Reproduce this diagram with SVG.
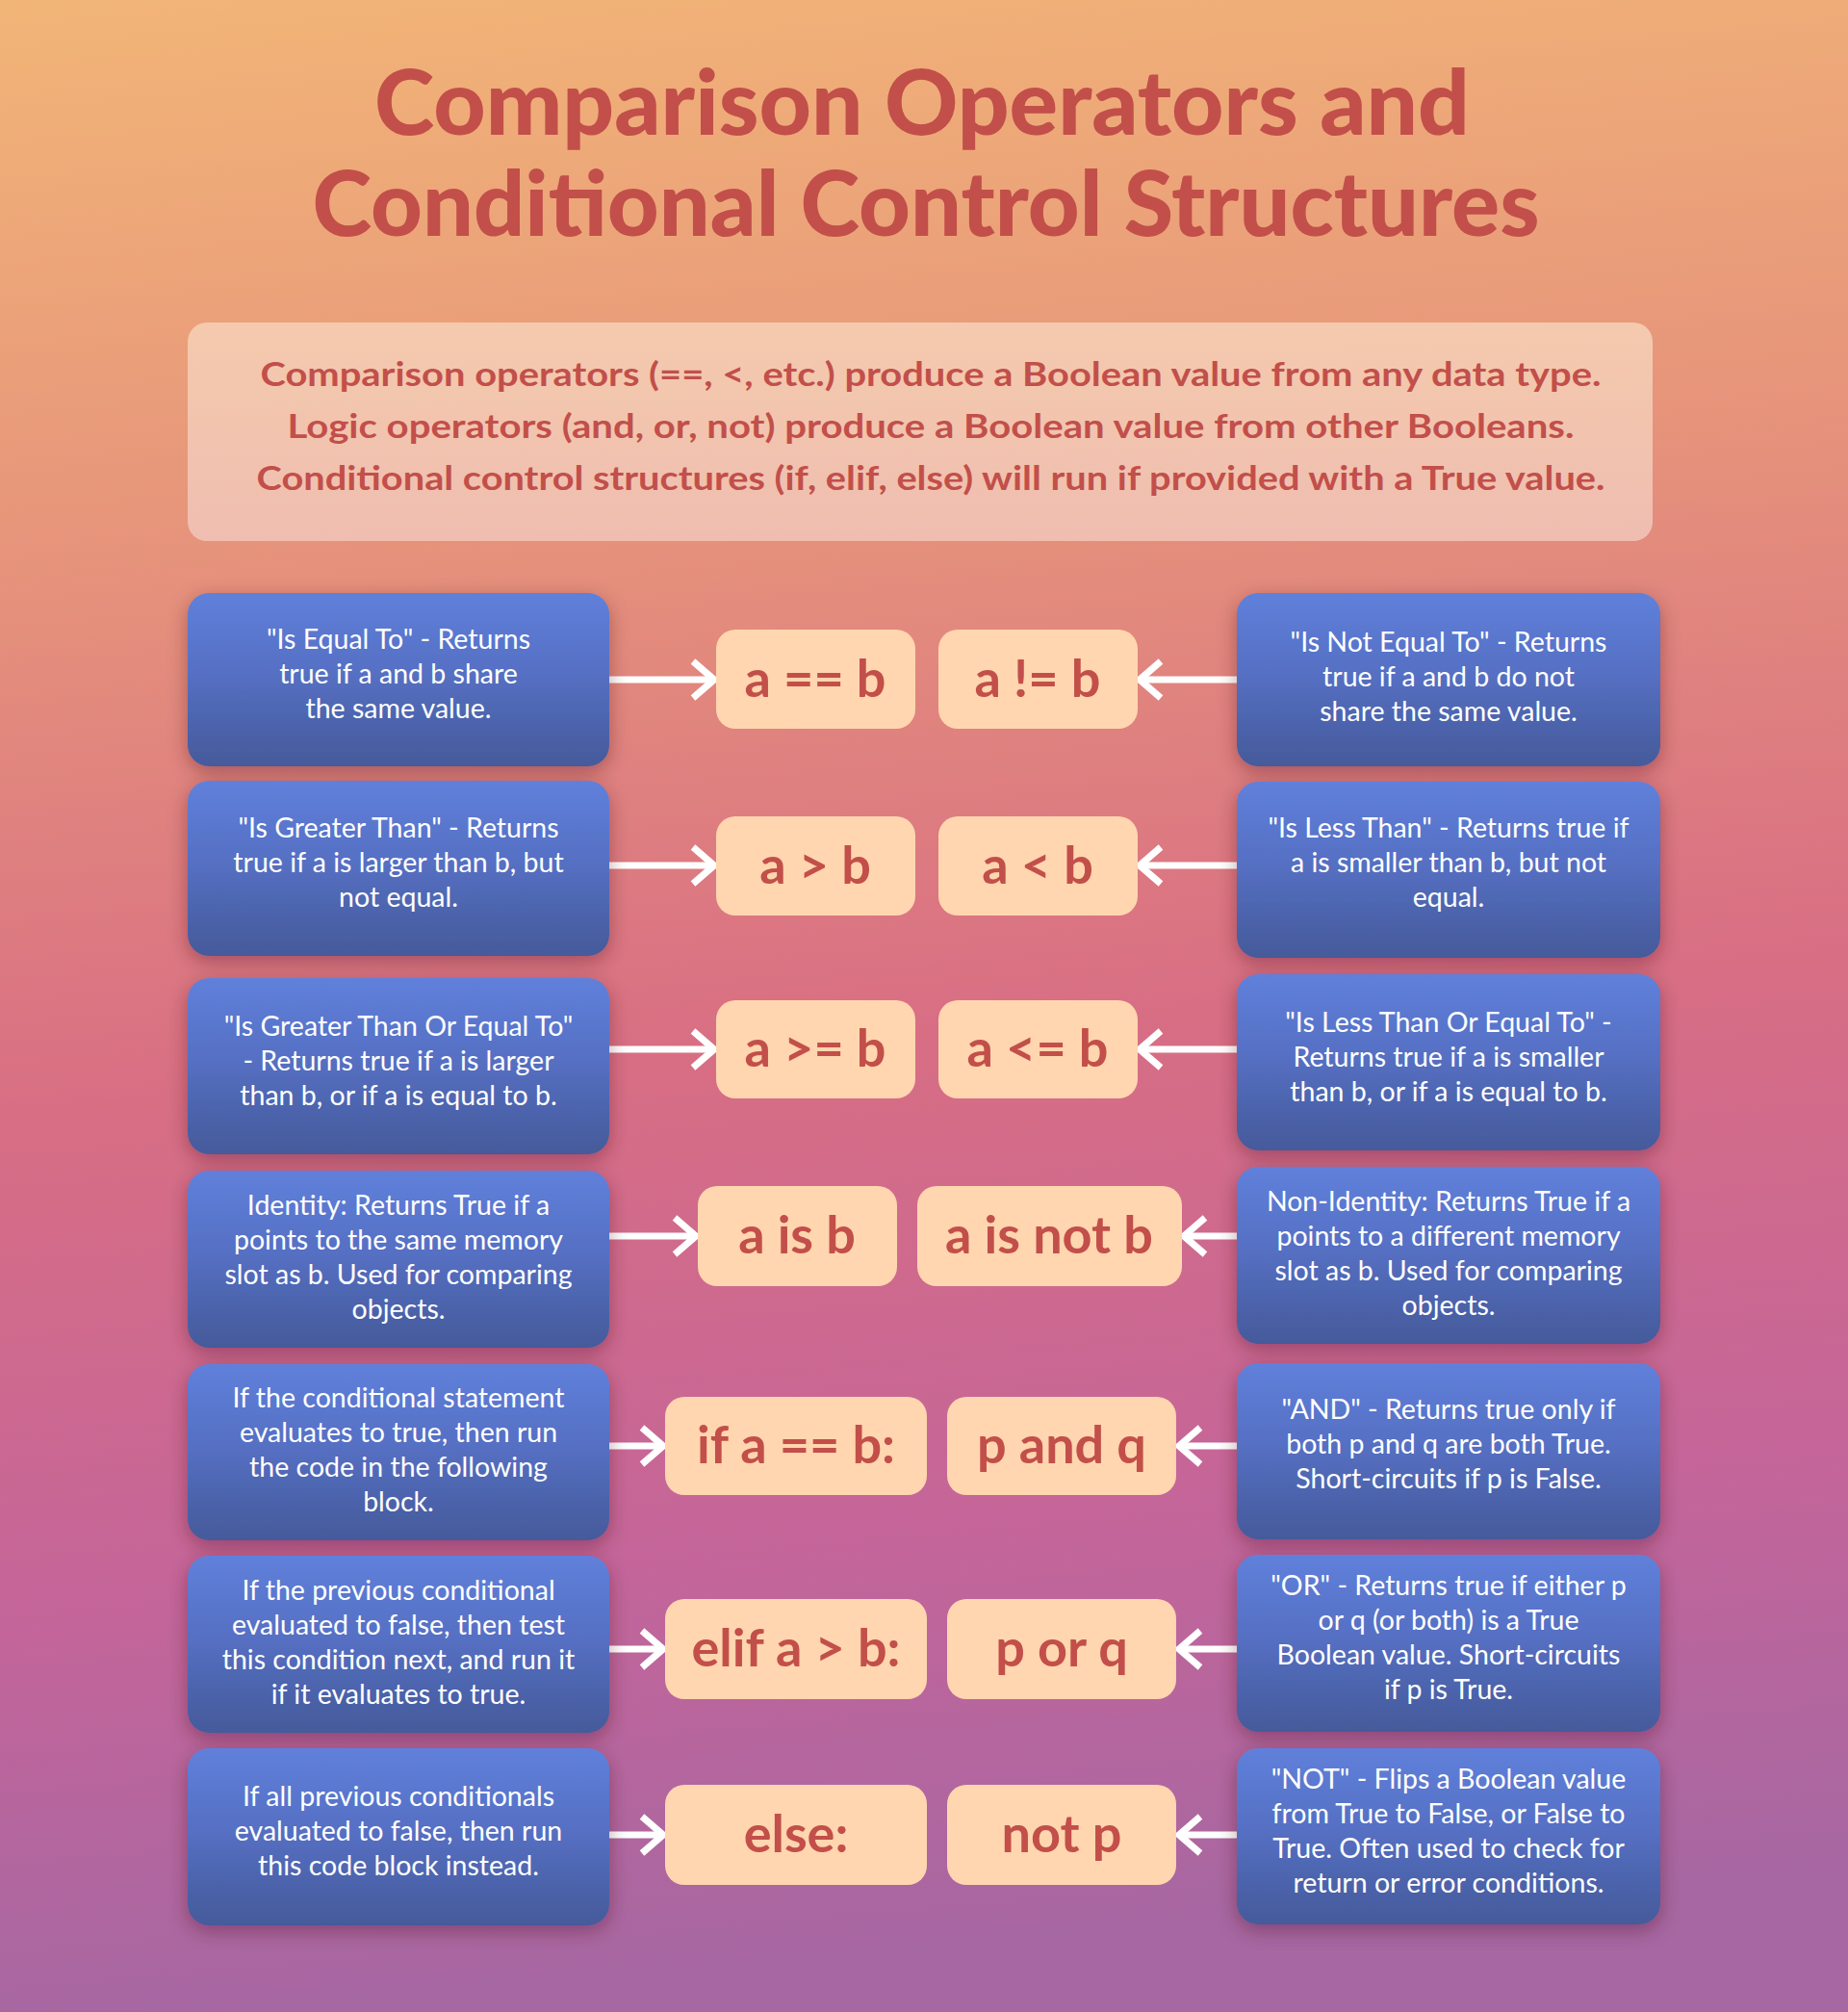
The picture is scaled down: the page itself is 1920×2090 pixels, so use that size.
<svg xmlns="http://www.w3.org/2000/svg" width="1920" height="2090" viewBox="0 0 1920 2090">
<defs>
<linearGradient id="bg" x1="0" y1="0" x2="0.08" y2="1">
<stop offset="0" stop-color="#F2B577"/>
<stop offset="0.28" stop-color="#E6937B"/>
<stop offset="0.55" stop-color="#D86E84"/>
<stop offset="0.8" stop-color="#C4659A"/>
<stop offset="1" stop-color="#A767A2"/>
</linearGradient>
<linearGradient id="blue" x1="0" y1="0" x2="0" y2="1">
<stop offset="0" stop-color="#5F80DB"/>
<stop offset="0.45" stop-color="#5670C4"/>
<stop offset="1" stop-color="#455A9A"/>
</linearGradient>
<linearGradient id="intro" x1="0" y1="0" x2="0" y2="1">
<stop offset="0" stop-color="#F5CCB0"/>
<stop offset="1" stop-color="#F0C0B3"/>
</linearGradient>
<filter id="sh" x="-15%" y="-15%" width="130%" height="140%">
<feDropShadow dx="0" dy="6" stdDeviation="10" flood-color="#3a1020" flood-opacity="0.35"/>
</filter>
<marker id="head" viewBox="0 0 30 44" refX="26" refY="22" markerWidth="30" markerHeight="44" markerUnits="userSpaceOnUse" orient="auto">
<path d="M4,3 L26,22 L4,41" fill="none" stroke="#FFFFFF" stroke-width="7"/>
</marker>
</defs>
<style>
.title{font-family:Lato,"Liberation Sans",sans-serif;font-weight:900;font-size:94px;fill:#C24F4A;text-anchor:middle}
.intro{font-family:Lato,"Liberation Sans",sans-serif;font-weight:700;font-size:35px;fill:#C24F4A;text-anchor:middle}
.desc{fill:url(#blue);filter:url(#sh)}
.dt{font-family:Lato,"Liberation Sans",sans-serif;font-weight:400;font-size:28.5px;fill:#FFFFFF;text-anchor:middle}
.code{fill:#FFD6AF}
.ct{font-family:Lato,"Liberation Sans",sans-serif;font-weight:700;font-size:54px;fill:#C24F4A;text-anchor:middle}
.arr{fill:none;stroke:#FFFFFF;stroke-width:7;marker-end:url(#head)}
</style>
<rect width="1920" height="2090" fill="url(#bg)"/>
<g id="title">
<text class="title" x="958" y="140" textLength="1138" lengthAdjust="spacingAndGlyphs">Comparison Operators and</text>
<text class="title" x="962" y="245" textLength="1275" lengthAdjust="spacingAndGlyphs">Conditional Control Structures</text>
</g>
<g id="intro-box">
<rect x="195" y="335" width="1522" height="227" rx="20" fill="url(#intro)" opacity="0.95"/>
<text class="intro" x="967" y="401" textLength="1393" lengthAdjust="spacingAndGlyphs">Comparison operators (==, &lt;, etc.) produce a Boolean value from any data type.</text>
<text class="intro" x="967" y="455" textLength="1337" lengthAdjust="spacingAndGlyphs">Logic operators (and, or, not) produce a Boolean value from other Booleans.</text>
<text class="intro" x="967" y="509" textLength="1401" lengthAdjust="spacingAndGlyphs">Conditional control structures (if, elif, else) will run if provided with a True value.</text>
</g>
<g id="connectors">
<path class="arr" d="M633,706 H742"/>
<path class="arr" d="M1285,706 H1184"/>
<path class="arr" d="M633,899 H742"/>
<path class="arr" d="M1285,899 H1184"/>
<path class="arr" d="M633,1090 H742"/>
<path class="arr" d="M1285,1090 H1184"/>
<path class="arr" d="M633,1284 H723"/>
<path class="arr" d="M1285,1284 H1230"/>
<path class="arr" d="M633,1502 H689"/>
<path class="arr" d="M1285,1502 H1225"/>
<path class="arr" d="M633,1713 H689"/>
<path class="arr" d="M1285,1713 H1225"/>
<path class="arr" d="M633,1906 H689"/>
<path class="arr" d="M1285,1906 H1225"/>
</g>
<g id="eq-desc"><rect class="desc" x="195" y="616" width="438" height="180" rx="22"/>
<text class="dt" x="414" y="674">"Is Equal To" - Returns</text><text class="dt" x="414" y="710">true if a and b share</text><text class="dt" x="414" y="746">the same value.</text></g>
<g id="neq-desc"><rect class="desc" x="1285" y="616" width="440" height="180" rx="22"/>
<text class="dt" x="1505" y="677">"Is Not Equal To" - Returns</text><text class="dt" x="1505" y="713">true if a and b do not</text><text class="dt" x="1505" y="749">share the same value.</text></g>
<g id="gt-desc"><rect class="desc" x="195" y="811" width="438" height="182" rx="22"/>
<text class="dt" x="414" y="870">"Is Greater Than" - Returns</text><text class="dt" x="414" y="906">true if a is larger than b, but</text><text class="dt" x="414" y="942">not equal.</text></g>
<g id="lt-desc"><rect class="desc" x="1285" y="812" width="440" height="183" rx="22"/>
<text class="dt" x="1505" y="870">"Is Less Than" - Returns true if</text><text class="dt" x="1505" y="906">a is smaller than b, but not</text><text class="dt" x="1505" y="942">equal.</text></g>
<g id="ge-desc"><rect class="desc" x="195" y="1016" width="438" height="183" rx="22"/>
<text class="dt" x="414" y="1076">"Is Greater Than Or Equal To"</text><text class="dt" x="414" y="1112">- Returns true if a is larger</text><text class="dt" x="414" y="1148">than b, or if a is equal to b.</text></g>
<g id="le-desc"><rect class="desc" x="1285" y="1012" width="440" height="183" rx="22"/>
<text class="dt" x="1505" y="1072">"Is Less Than Or Equal To" -</text><text class="dt" x="1505" y="1108">Returns true if a is smaller</text><text class="dt" x="1505" y="1144">than b, or if a is equal to b.</text></g>
<g id="is-desc"><rect class="desc" x="195" y="1216" width="438" height="184" rx="22"/>
<text class="dt" x="414" y="1262">Identity: Returns True if a</text><text class="dt" x="414" y="1298">points to the same memory</text><text class="dt" x="414" y="1334">slot as b. Used for comparing</text><text class="dt" x="414" y="1370">objects.</text></g>
<g id="isnot-desc"><rect class="desc" x="1285" y="1212" width="440" height="184" rx="22"/>
<text class="dt" x="1505" y="1258">Non-Identity: Returns True if a</text><text class="dt" x="1505" y="1294">points to a different memory</text><text class="dt" x="1505" y="1330">slot as b. Used for comparing</text><text class="dt" x="1505" y="1366">objects.</text></g>
<g id="if-desc"><rect class="desc" x="195" y="1417" width="438" height="183" rx="22"/>
<text class="dt" x="414" y="1462">If the conditional statement</text><text class="dt" x="414" y="1498">evaluates to true, then run</text><text class="dt" x="414" y="1534">the code in the following</text><text class="dt" x="414" y="1570">block.</text></g>
<g id="and-desc"><rect class="desc" x="1285" y="1416" width="440" height="183" rx="22"/>
<text class="dt" x="1505" y="1474">"AND" - Returns true only if</text><text class="dt" x="1505" y="1510">both p and q are both True.</text><text class="dt" x="1505" y="1546">Short-circuits if p is False.</text></g>
<g id="elif-desc"><rect class="desc" x="195" y="1616" width="438" height="184" rx="22"/>
<text class="dt" x="414" y="1662">If the previous conditional</text><text class="dt" x="414" y="1698">evaluated to false, then test</text><text class="dt" x="414" y="1734">this condition next, and run it</text><text class="dt" x="414" y="1770">if it evaluates to true.</text></g>
<g id="or-desc"><rect class="desc" x="1285" y="1615" width="440" height="184" rx="22"/>
<text class="dt" x="1505" y="1657">"OR" - Returns true if either p</text><text class="dt" x="1505" y="1693">or q (or both) is a True</text><text class="dt" x="1505" y="1729">Boolean value. Short-circuits</text><text class="dt" x="1505" y="1765">if p is True.</text></g>
<g id="else-desc"><rect class="desc" x="195" y="1816" width="438" height="184" rx="22"/>
<text class="dt" x="414" y="1876">If all previous conditionals</text><text class="dt" x="414" y="1912">evaluated to false, then run</text><text class="dt" x="414" y="1948">this code block instead.</text></g>
<g id="not-desc"><rect class="desc" x="1285" y="1816" width="440" height="183" rx="22"/>
<text class="dt" x="1505" y="1858">"NOT" - Flips a Boolean value</text><text class="dt" x="1505" y="1894">from True to False, or False to</text><text class="dt" x="1505" y="1930">True. Often used to check for</text><text class="dt" x="1505" y="1966">return or error conditions.</text></g>
<g id="op-eq"><rect class="code" x="744" y="654" width="207" height="103" rx="20"/><text class="ct" x="847" y="724">a == b</text></g>
<g id="op-neq"><rect class="code" x="975" y="654" width="207" height="103" rx="20"/><text class="ct" x="1078" y="724">a != b</text></g>
<g id="op-gt"><rect class="code" x="744" y="848" width="207" height="103" rx="20"/><text class="ct" x="847" y="918">a &gt; b</text></g>
<g id="op-lt"><rect class="code" x="975" y="848" width="207" height="103" rx="20"/><text class="ct" x="1078" y="918">a &lt; b</text></g>
<g id="op-ge"><rect class="code" x="744" y="1039" width="207" height="102" rx="20"/><text class="ct" x="847" y="1108">a &gt;= b</text></g>
<g id="op-le"><rect class="code" x="975" y="1039" width="207" height="102" rx="20"/><text class="ct" x="1078" y="1108">a &lt;= b</text></g>
<g id="op-is"><rect class="code" x="725" y="1232" width="207" height="104" rx="20"/><text class="ct" x="828" y="1302">a is b</text></g>
<g id="op-isnot"><rect class="code" x="953" y="1232" width="275" height="104" rx="20"/><text class="ct" x="1090" y="1302">a is not b</text></g>
<g id="op-if"><rect class="code" x="691" y="1451" width="272" height="102" rx="20"/><text class="ct" x="827" y="1520">if a == b:</text></g>
<g id="op-and"><rect class="code" x="984" y="1451" width="238" height="102" rx="20"/><text class="ct" x="1103" y="1520">p and q</text></g>
<g id="op-elif"><rect class="code" x="691" y="1661" width="272" height="104" rx="20"/><text class="ct" x="827" y="1731">elif a &gt; b:</text></g>
<g id="op-or"><rect class="code" x="984" y="1661" width="238" height="104" rx="20"/><text class="ct" x="1103" y="1731">p or q</text></g>
<g id="op-else"><rect class="code" x="691" y="1854" width="272" height="104" rx="20"/><text class="ct" x="827" y="1924">else:</text></g>
<g id="op-not"><rect class="code" x="984" y="1854" width="238" height="104" rx="20"/><text class="ct" x="1103" y="1924">not p</text></g>
</svg>
